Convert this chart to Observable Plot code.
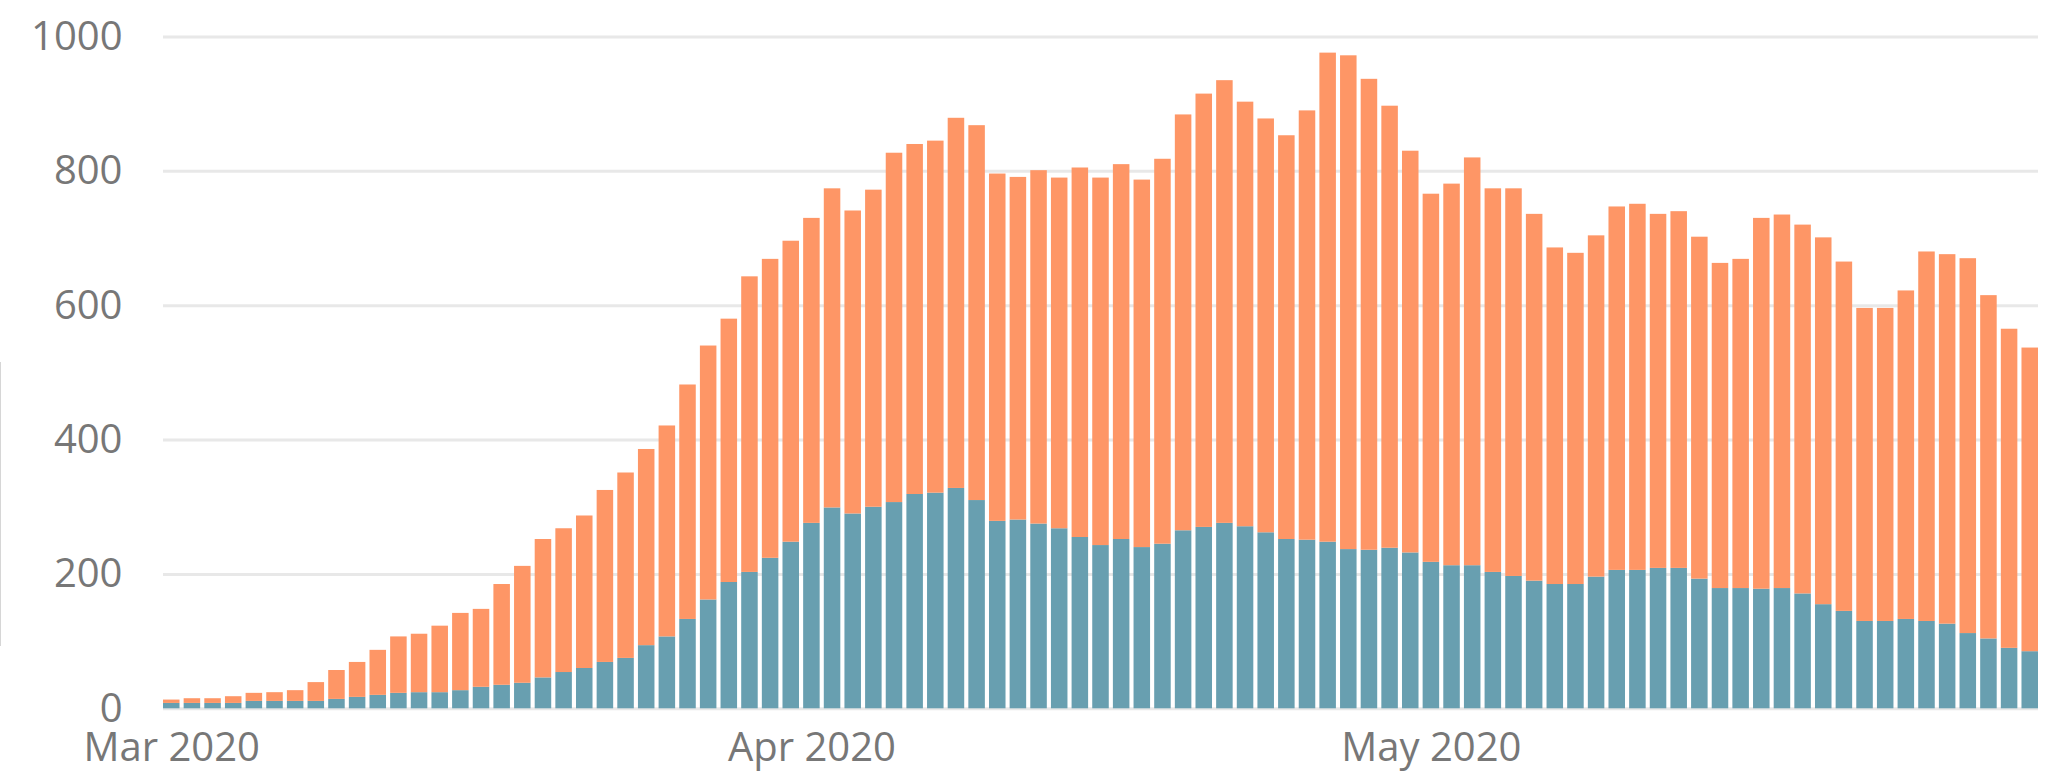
<!DOCTYPE html>
<html>
<head>
<meta charset="utf-8">
<script src="https://cdn.jsdelivr.net/npm/d3@7"></script>
<script src="https://cdn.jsdelivr.net/npm/@observablehq/plot@0.6"></script>
<style>
  html, body { margin: 0; padding: 0; background: #ffffff; }
  #chart { position: relative; width: 2063px; height: 774px; overflow: hidden; }
  #edge { position: absolute; left: 0; top: 362px; width: 1px; height: 284px; background: #d6d6d6; }
  #chart svg { display: block; }
</style>
</head>
<body>
<div id="chart"><div id="edge"></div></div>
<script>
// Categories: one bar per day, 1 Mar 2020 – 30 May 2020
const firstDay = new Date(Date.UTC(2020, 2, 1));
const afterLastDay = new Date(Date.UTC(2020, 4, 31));
const dayKeys = d3.utcDay.range(firstDay, afterLastDay).map(d3.utcFormat("%Y-%m-%d"));

// Lower (blue) segment values
const blueValues = [
  8, 8, 8, 8, 11, 11, 11, 11, 14, 17,
  20, 23, 24, 24, 27, 32, 35, 38, 46, 54,
  60, 69, 75, 94, 107, 133, 162, 188, 203, 224,
  248,
  276, 299, 290, 300, 307, 319, 321, 328, 310, 279,
  281, 275, 268, 255, 243, 252, 240, 245, 265, 270,
  276, 271, 262, 252, 251, 248, 237, 236, 239, 232,
  218, 213, 213, 203, 197, 190, 185, 185, 196, 206,
  206, 209, 209, 193, 179, 179, 178, 179, 171, 155,
  145, 130, 130, 133, 130, 126, 112, 104, 90, 85
];

// Upper (orange) segment values
const orangeValues = [
  5, 7, 7, 10, 12, 13, 16, 28, 43, 52,
  67, 84, 87, 99, 115, 116, 150, 174, 206, 214,
  227, 256, 276, 292, 314, 349, 378, 392, 440, 445,
  448,
  454, 475, 451, 472, 520, 521, 524, 551, 558, 517,
  510, 526, 522, 550, 547, 558, 547, 573, 619, 645,
  659, 632, 616, 601, 639, 728, 735, 701, 658, 598,
  548, 568, 607, 571, 577, 546, 501, 493, 508, 541,
  545, 527, 531, 509, 484, 490, 552, 556, 549, 546,
  520, 466, 466, 489, 550, 550, 558, 511, 475, 452
];

const seriesNames = ["Lower", "Upper"];
const seriesColors = ["#689FB0", "#FE9666"];
const yTicks = [0, 200, 400, 600, 800, 1000];
const monthTicks = ["2020-03-01", "2020-04-01", "2020-05-01"];

const rows = [];
dayKeys.forEach((k, i) => {
  rows.push({date: k, series: seriesNames[0], value: blueValues[i]});
  rows.push({date: k, series: seriesNames[1], value: orangeValues[i]});
});

const fmtMonth = d3.utcFormat("%b %Y");

const chart = Plot.plot({
  width: 2063,
  height: 774,
  marginLeft: 163,
  marginRight: 25,
  marginTop: 36.5,
  marginBottom: 65.7,
  style: {
    fontFamily: "'Open Sans', 'Segoe UI', sans-serif",
    fontSize: "40px",
    color: "#777777",
    background: "#ffffff",
    overflow: "visible"
  },
  x: {
    type: "band",
    domain: dayKeys,
    paddingInner: 0.2,
    paddingOuter: 0,
    round: false,
    ticks: monthTicks,
    tickFormat: s => fmtMonth(new Date(s + "T00:00:00Z")),
    tickSize: 0,
    tickPadding: 24,
    label: null
  },
  y: {
    domain: [0, 1000],
    ticks: yTicks,
    tickFormat: d3.format("d"),
    tickSize: 0,
    tickPadding: 41,
    label: null
  },
  color: { domain: seriesNames, range: seriesColors },
  marks: [
    Plot.ruleY(yTicks, {stroke: "#e8e8e8", strokeWidth: 3}),
    Plot.barY(rows, {x: "date", y: "value", fill: "series"})
  ]
});

document.getElementById("chart").appendChild(chart);
</script>
</body>
</html>
